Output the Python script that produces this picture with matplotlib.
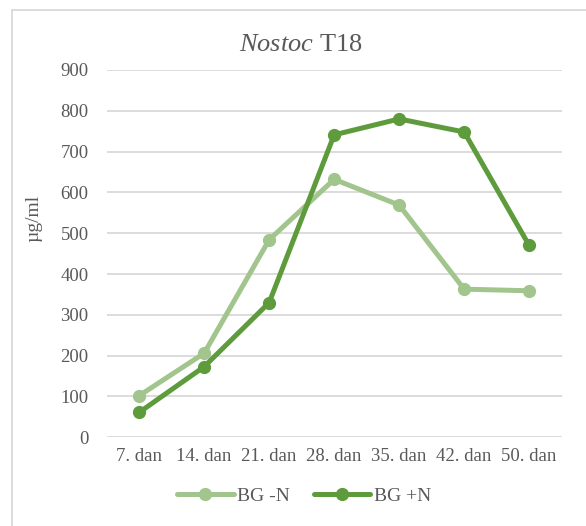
import matplotlib
matplotlib.use("Agg")
import matplotlib.pyplot as plt
from matplotlib.patches import Rectangle

plt.rcParams['font.family'] = ['Liberation Serif', 'DejaVu Serif']
plt.rcParams['mathtext.fontset'] = 'custom'
plt.rcParams['mathtext.rm'] = 'Liberation Serif'
plt.rcParams['mathtext.it'] = 'Liberation Serif:italic'

# data
days = ["7. dan", "14. dan", "21. dan", "28. dan", "35. dan", "42. dan", "50. dan"]
bg_minus_n = [102, 206, 484, 632, 569, 363, 359]
bg_plus_n = [61, 173, 330, 741, 780, 748, 470]
y_ticks = [0, 100, 200, 300, 400, 500, 600, 700, 800, 900]

light = '#A2C58D'
dark = '#5E9B3C'
text_col = '#595959'

fig = plt.figure(figsize=(5.86, 5.26), dpi=100)
ax = fig.add_axes([0.182, 0.1686, 0.7765, 0.6984])

x = range(len(days))
ax.plot(x, bg_minus_n, color=light, lw=3.6, marker='o', ms=8.5, label='BG -N',
        solid_capstyle='round', zorder=3)
ax.plot(x, bg_plus_n, color=dark, lw=3.6, marker='o', ms=8.5, label='BG +N',
        solid_capstyle='round', zorder=4)

ax.set_xlim(-0.5, len(days) - 0.5)
ax.set_ylim(0, 900)
ax.set_yticks(y_ticks)
ax.set_xticks(list(x))
ax.set_xticklabels(days)
ax.grid(axis='y', color='#D9D9D9', lw=1.3)
ax.set_axisbelow(True)
for s in ax.spines.values():
    s.set_visible(False)
ax.tick_params(length=0, labelsize=13.5, labelcolor=text_col)
ax.tick_params(axis='y', pad=13)
ax.tick_params(axis='x', pad=8)

fig.text(0.058, 0.584, 'µg/ml', rotation=90, ha='center', va='center',
         fontsize=14, color=text_col)
fig.text(0.514, 0.914, r'$\mathit{Nostoc}$ T18', ha='center', va='center',
         fontsize=19, color=text_col)

fig.legend(loc='center', bbox_to_anchor=(0.519, 0.057), ncol=2, frameon=False,
           fontsize=14, labelcolor=text_col, handlelength=2.9,
           handletextpad=0.2, columnspacing=1.2)

# chart border (right and bottom edges run off the image)
fig.patches.append(Rectangle((12 / 586, -0.1), 1.2, 1.1 - 10 / 526,
                             transform=fig.transFigure,
                             fill=False, ec='#D9D9D9', lw=1.3))

fig.savefig('out.png', dpi=100)
